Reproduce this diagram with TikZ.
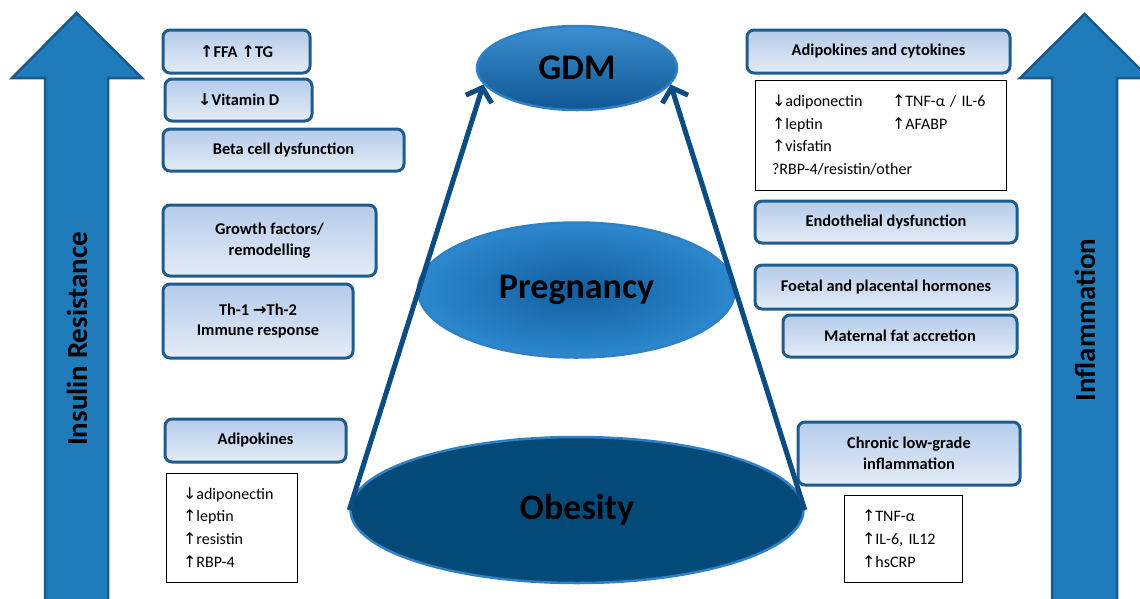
\documentclass[tikz,border=0pt]{standalone}
\usepackage{fontspec}
\setmainfont{Carlito}
\newfontfamily\arrowfont{DejaVu Sans}
\usetikzlibrary{shapes.geometric,arrows.meta}

\definecolor{boxline}{HTML}{1E5C8E}
\definecolor{boxtop}{HTML}{B5CBEA}
\definecolor{boxbot}{HTML}{E4ECF7}
\definecolor{bigblue}{HTML}{1F7BBA}
\definecolor{bigline}{HTML}{175A8C}
\definecolor{conline}{HTML}{0B4C82}
\definecolor{rimblue}{HTML}{2F80C4}
\definecolor{gdmtop}{HTML}{3A8ED0}
\definecolor{gdmbot}{HTML}{115894}
\definecolor{pregin}{HTML}{125E9E}
\definecolor{pregout}{HTML}{2C88CE}
\definecolor{obesfill}{HTML}{044A79}

\newcommand{\uparr}{{\arrowfont ↑}}
\newcommand{\downarr}{{\arrowfont ↓}}
\newcommand{\rightarr}{{\arrowfont →}}

\begin{document}
\begin{tikzpicture}[x=1pt,y=-1pt,
  blockbox/.style={draw=boxline, line width=3pt, rounded corners=7pt,
    top color=boxtop, bottom color=boxbot, align=center, inner sep=0pt,
    font=\bfseries\fontsize{16.4}{20.5}\selectfont},
  listbox/.style={draw=black, line width=0.8pt, fill=white, align=left,
    inner ysep=0pt, font=\fontsize{16}{22.7}\selectfont},
  stage/.style={ellipse, draw=rimblue, line width=2.5pt, inner sep=0pt,
    font=\bfseries\fontsize{36}{40}\selectfont},
  bigarrow/.style={fill=bigblue, draw=bigline, line width=2.5pt},
  sidelabel/.style={rotate=90, font=\bfseries\fontsize{29}{32}\selectfont},
  rise/.style={-{Straight Barb[length=12pt,width=27pt]}, conline, line width=5pt}
]
\clip (0,0) rectangle (1140,598);

% big arrows at the sides
\draw [bigarrow] (45,604) -- (45,78) -- (12,78) -- (76.5,13) -- (142,78) -- (108,78) -- (108,604) -- cycle;
\draw [bigarrow] (1052,604) -- (1052,78) -- (1020,78) -- (1084.5,14) -- (1149,78) -- (1117,78) -- (1117,604) -- cycle;
\node [sidelabel] (irlabel) at (77,339) {Insulin Resistance};
\node [sidelabel] (inflabel) at (1085,320) {Inflammation};

% left column
\node [blockbox, minimum width=147pt, minimum height=43pt] (ffa) at (236.5,51.5) {\uparr FFA \uparr TG};
\node [blockbox, minimum width=147pt, minimum height=42pt] (vitd) at (238.5,100) {\downarr Vitamin D};
\node [blockbox, minimum width=241pt, minimum height=42pt] (beta) at (283.5,150) {Beta cell dysfunction};
\node [blockbox, minimum width=213pt, minimum height=71pt] (growth) at (269.5,240.5) {Growth factors/\\remodelling};
\node [blockbox, minimum width=190pt, minimum height=74pt] (thimm) at (258,321) {Th-1 \rightarr Th-2\\Immune response};
\node [blockbox, minimum width=181pt, minimum height=43pt] (adipo) at (255.5,440.5) {Adipokines};
\node [listbox, text width=97pt, inner xsep=17pt, minimum height=109pt] (adlist) at (231.5,527.5)
  {\downarr adiponectin\\\uparr leptin\\\uparr resistin\\\uparr RBP-4};

% right column
\node [blockbox, minimum width=263pt, minimum height=43pt] (adcyt) at (878.5,51.5) {Adipokines and cytokines};
\node [listbox, text width=217pt, inner xsep=17pt, minimum height=110pt] (adclist) at (880.5,135)
  {\makebox[120pt][l]{\downarr adiponectin}\uparr TNF-α / IL-6\\
   \makebox[120pt][l]{\uparr leptin}\uparr AFABP\\
   \uparr visfatin\\
   ?RBP-4/resistin/other};
\node [blockbox, minimum width=262pt, minimum height=42pt] (endo) at (886,222) {Endothelial dysfunction};
\node [blockbox, minimum width=262pt, minimum height=44pt] (foetal) at (886,287) {Foetal and placental hormones};
\node [blockbox, minimum width=234pt, minimum height=42pt] (matfat) at (900,336) {Maternal fat accretion};
\node [blockbox, minimum width=222pt, minimum height=63pt] (chronic) at (909,453.5) {Chronic low-grade\\inflammation};
\node [listbox, text width=82pt, inner xsep=18pt, minimum height=87pt] (chrlist) at (903,538.5)
  {\uparr TNF-α\\\uparr IL-6, IL12\\\uparr hsCRP};

% the three stages
\node [stage, top color=gdmtop, bottom color=gdmbot, minimum width=200pt, minimum height=84pt] (gdm) at (577,68) {GDM};
\node [stage, inner color=pregin, outer color=pregout, minimum width=317pt, minimum height=135pt] (preg) at (576.5,290) {Pregnancy};
\node [stage, fill=obesfill, minimum width=453pt, minimum height=146pt] (obes) at (577,510) {Obesity};

\draw [rise] (obes.west) -- (gdm.190);
\draw [rise] (obes.east) -- (gdm.-10);
\end{tikzpicture}
\end{document}
